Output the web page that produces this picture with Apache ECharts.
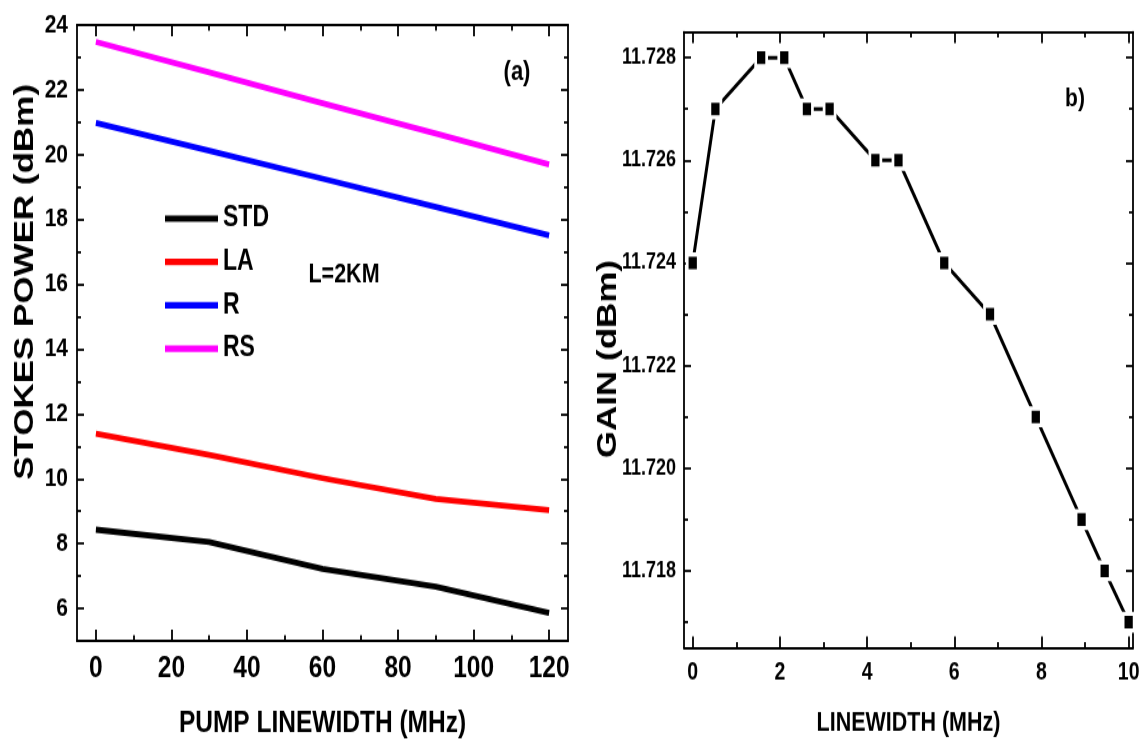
<!DOCTYPE html>
<html>
<head>
<meta charset="utf-8">
<script src="https://cdn.jsdelivr.net/npm/echarts@6/dist/echarts.min.js"></script>
<style>
  html, body { margin: 0; padding: 0; background: #fff; width: 1146px; height: 742px; }
  /* the figure is drawn at 594px tall and stretched vertically to fill 742px */
  #chart { width: 1146px; height: 594px; transform: scaleY(1.2492); transform-origin: 0 0; }
</style>
</head>
<body>
<div id="chart"></div>
<script>
// Panel (a): Stokes power against pump linewidth, L = 2 km
const pumpLinewidth = [0, 30, 60, 90, 120];
const stokesSTD = [8.43, 8.05, 7.22, 6.67, 5.86];
const stokesLA  = [11.39, 10.74, 10.02, 9.38, 9.03];
const stokesR   = [20.98, 20.12, 19.26, 18.39, 17.51];
const stokesRS  = [23.48, 22.54, 21.59, 20.65, 19.70];
const seriesNames = ['STD', 'LA', 'R', 'RS'];

const powerXTicks = [0, 20, 40, 60, 80, 100, 120];
const powerXMinorTicks = [10, 30, 50, 70, 90, 110];
const powerYTicks = [6, 8, 10, 12, 14, 16, 18, 20, 22, 24];
const powerYMinorTicks = [7, 9, 11, 13, 15, 17, 19, 21, 23];

// Panel (b): gain against linewidth
const linewidth = [0, 0.52, 1.57, 2.1, 2.62, 3.14, 4.19, 4.72, 5.77, 6.82, 7.87, 8.92, 9.45, 10];
const gain = [11.724, 11.727, 11.728, 11.728, 11.727, 11.727, 11.726, 11.726,
              11.724, 11.723, 11.721, 11.719, 11.718, 11.717];

const gainXTicks = [0, 2, 4, 6, 8, 10];
const gainXMinorTicks = [1, 3, 5, 7, 9];
const gainYTicks = [11.718, 11.720, 11.722, 11.724, 11.726, 11.728];
const gainYMinorTicks = [11.717, 11.719, 11.721, 11.723, 11.725, 11.727];

const FONT = "'Liberation Sans', Arial, 'DejaVu Sans', sans-serif";

// A value axis whose ticks (and optionally labels) sit at fixed values
function tickAxis(gridIndex, position, min, max, ticks, tickLen, showLine, label) {
  const ax = {
    type: 'value', gridIndex, position, min, max,
    splitLine: { show: false },
    axisLine: { show: showLine, onZero: false, lineStyle: { color: '#000', width: 1.8 } },
    axisTick: { show: true, inside: true, length: tickLen, customValues: ticks,
                lineStyle: { color: '#000', width: 1.8 } },
    axisLabel: { show: false }
  };
  if (label) {
    ax.axisLabel = Object.assign({
      show: true, customValues: ticks, color: '#000',
      fontFamily: FONT, fontWeight: 'bold'
    }, label);
  }
  return ax;
}

function lineSeries(name, ys, color) {
  return {
    name, type: 'line', xAxisIndex: 0, yAxisIndex: 0,
    data: pumpLinewidth.map((x, i) => [x, ys[i]]),
    symbol: 'none', silent: true,
    lineStyle: { color, width: 4.8, join: 'round', cap: 'butt' },
    itemStyle: { color }
  };
}

const aMin = -5, aMax = 125, aYMin = 5, aYMax = 24;
const bMin = -0.2, bMax = 10.1, bYMin = 11.7165, bYMax = 11.7285;

const xLabelA = { fontSize: 24.5, margin: 10 };
const xLabelB = { fontSize: 19.5, margin: 10 };
const yLabelA = { fontSize: 21, margin: 9 };
const yLabelB = { fontSize: 18, margin: 8, formatter: v => v.toFixed(3) };
const nameStyle = size => ({ fontFamily: FONT, fontWeight: 'bold', fontSize: size, color: '#000' });

const xAxes = [
  // panel (a)
  Object.assign(tickAxis(0, 'bottom', aMin, aMax, powerXTicks, 9, true, xLabelA), {
    name: 'PUMP LINEWIDTH (MHz)', nameLocation: 'middle', nameGap: 54, nameTextStyle: nameStyle(24.5)
  }),
  tickAxis(0, 'bottom', aMin, aMax, powerXMinorTicks, 4.5, false),
  tickAxis(0, 'top', aMin, aMax, powerXTicks, 9, true),
  tickAxis(0, 'top', aMin, aMax, powerXMinorTicks, 4.5, false),
  // panel (b)
  Object.assign(tickAxis(1, 'bottom', bMin, bMax, gainXTicks, 9, true, xLabelB), {
    name: 'LINEWIDTH (MHz)', nameLocation: 'middle', nameGap: 49, nameTextStyle: nameStyle(21.5)
  }),
  tickAxis(1, 'bottom', bMin, bMax, gainXMinorTicks, 4.5, false),
  tickAxis(1, 'top', bMin, bMax, gainXTicks, 9, true),
  tickAxis(1, 'top', bMin, bMax, gainXMinorTicks, 4.5, false)
];

const yAxes = [
  tickAxis(0, 'left', aYMin, aYMax, powerYTicks, 7, true, yLabelA),
  tickAxis(0, 'left', aYMin, aYMax, powerYMinorTicks, 4, false),
  tickAxis(0, 'right', aYMin, aYMax, powerYTicks, 7, true),
  tickAxis(0, 'right', aYMin, aYMax, powerYMinorTicks, 4, false),
  tickAxis(1, 'left', bYMin, bYMax, gainYTicks, 7, true, yLabelB),
  tickAxis(1, 'left', bYMin, bYMax, gainYMinorTicks, 4, false),
  tickAxis(1, 'right', bYMin, bYMax, gainYTicks, 7, true),
  tickAxis(1, 'right', bYMin, bYMax, gainYMinorTicks, 4, false)
];

const chart = echarts.init(document.getElementById('chart'), null, { renderer: 'canvas' });

chart.setOption({
  animation: false,
  backgroundColor: '#fff',
  grid: [
    { left: 77, top: 20, width: 491, height: 493, outerBoundsMode: 'none', containLabel: false },
    { left: 684, top: 25.6, width: 449, height: 493, outerBoundsMode: 'none', containLabel: false }
  ],
  xAxis: xAxes,
  yAxis: yAxes,
  legend: {
    data: seriesNames,
    orient: 'vertical',
    left: 160, top: 158.5,
    icon: 'rect', itemWidth: 53, itemHeight: 5.2, itemGap: 11.7,
    selectedMode: false,
    textStyle: { fontFamily: FONT, fontWeight: 'bold', fontSize: 23, lineHeight: 23, color: '#000' }
  },
  graphic: [
    { type: 'text', x: 25, y: 225.7, rotation: Math.PI / 2,
      style: { text: 'STOKES POWER (dBm)', align: 'center', verticalAlign: 'middle',
               fontFamily: FONT, fontWeight: 'bold', fontSize: 28, fill: '#000' } },
    { type: 'text', x: 608, y: 287.4, rotation: Math.PI / 2,
      style: { text: 'GAIN (dBm)', align: 'center', verticalAlign: 'middle',
               fontFamily: FONT, fontWeight: 'bold', fontSize: 28, fill: '#000' } },
    { type: 'text', x: 517, y: 57.6,
      style: { text: '(a)', align: 'center', verticalAlign: 'middle',
               fontFamily: FONT, fontWeight: 'bold', fontSize: 22, fill: '#000' } },
    { type: 'text', x: 344, y: 220.1,
      style: { text: 'L=2KM', align: 'center', verticalAlign: 'middle',
               fontFamily: FONT, fontWeight: 'bold', fontSize: 21.5, fill: '#000' } },
    { type: 'text', x: 1075, y: 79.2,
      style: { text: 'b)', align: 'center', verticalAlign: 'middle',
               fontFamily: FONT, fontWeight: 'bold', fontSize: 21, fill: '#000' } }
  ],
  series: [
    lineSeries('STD', stokesSTD, '#000000'),
    lineSeries('LA', stokesLA, '#ff0000'),
    lineSeries('R', stokesR, '#0000ff'),
    lineSeries('RS', stokesRS, '#ff00ff'),
    {
      name: 'GAIN', type: 'line', xAxisIndex: 4, yAxisIndex: 4,
      data: linewidth.map((x, i) => [x, gain[i]]),
      symbol: 'rect', symbolSize: [11, 13.4], silent: true,
      lineStyle: { color: '#000', width: 3 },
      itemStyle: { color: '#000', borderColor: '#fff', borderWidth: 3 }
    }
  ]
});
</script>
</body>
</html>
